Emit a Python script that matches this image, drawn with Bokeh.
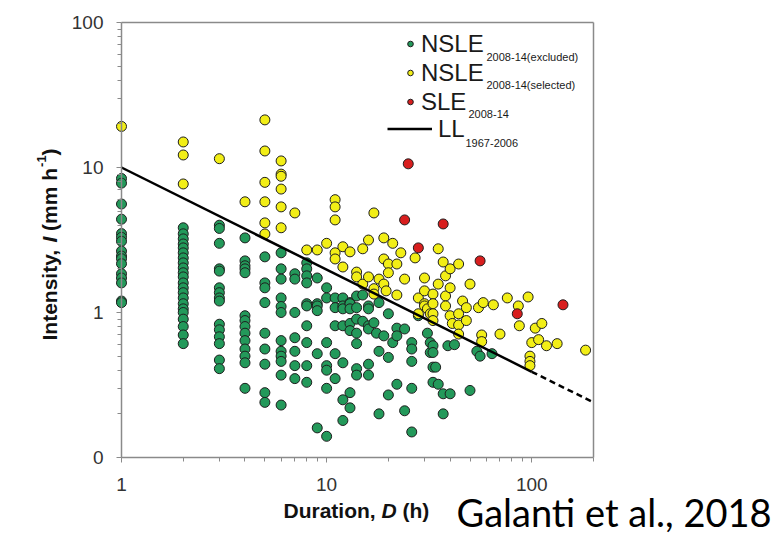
import math
from bokeh.plotting import figure
from bokeh.models import (ColumnDataSource, Legend, LegendItem, Label,
                          FixedTicker, Range1d, LogAxis)
from bokeh.embed import file_html
from bokeh.resources import INLINE

# ---------------- data ----------------
# NSLE 2008-14 (excluded)  -- green
excl_D = [1, 1, 1, 1, 1, 1, 1, 1, 1, 1, 1, 1, 1, 1, 1, 1,
          2, 2, 2, 2, 2, 2, 2, 2, 2, 2, 2, 2, 2, 2, 2, 2, 2, 2, 2, 2, 2, 2,
          3, 3, 3, 3, 3, 3, 3, 3, 3, 3, 3, 3, 3, 3, 3,
          4, 4, 4, 4, 4, 4, 4, 4, 4, 4, 4, 4, 4, 4,
          5, 5, 5, 5, 5, 5, 5, 5, 5,
          6, 6, 6, 6, 6, 6, 6, 6, 6, 6, 6, 6,
          7, 7, 7, 7, 7, 7, 7,
          8, 8, 8, 8, 8, 8, 8, 8, 8, 8,
          9, 9, 9, 9, 9, 9,
          10, 10, 10, 10, 10, 10, 10,
          11, 11, 11, 11, 11,
          12, 12, 12, 12, 12, 12, 12,
          13, 13, 13, 13, 13, 13, 13,
          14, 14, 14, 14, 14, 14, 14,
          15, 15,
          16, 16, 16, 16, 16, 16,
          17, 17.5,
          18, 18, 18,
          19,
          20, 20, 20,
          21,
          22, 22, 22,
          24, 24,
          26, 26, 26, 26, 26,
          28, 31, 32, 32,
          33, 33, 33, 33,
          34, 35, 37, 37, 39, 40, 42, 50, 54, 56, 64]
excl_I = [8.4, 7.8, 5.6, 4.4, 3.5, 3.3, 3.1, 2.65, 2.45, 2.35, 2.17, 1.85, 1.73, 1.6, 1.2, 1.17,
          3.84, 3.49, 3.22, 2.97, 2.79, 2.58, 2.38, 2.2, 2.03, 1.88, 1.76, 1.6, 1.48, 1.37, 1.26,
          1.15, 1.06, 1.0, 0.9, 0.8, 0.7, 0.61,
          4.0, 3.8, 3.0, 2.0, 1.93, 1.48, 1.37, 1.26, 1.2, 0.83, 0.76, 0.68, 0.61, 0.47, 0.41,
          3.27, 2.27, 2.1, 2.0, 1.88, 0.95, 0.88, 0.8, 0.72, 0.64, 0.56, 0.5, 0.45, 0.30,
          2.42, 1.6, 1.48, 1.17, 0.72, 0.56, 0.44, 0.28, 0.24,
          2.58, 2.0, 1.7, 1.26, 1.1, 1.0, 0.64, 0.54, 0.5, 0.46, 0.37, 0.23,
          1.85, 1.7, 1.0, 0.67, 0.54, 0.43, 0.35,
          2.2, 2.0, 1.79, 1.6, 1.15, 1.11, 0.81, 0.62, 0.43, 0.33,
          1.73, 1.15, 1.11, 1.03, 0.52, 0.16,
          1.48, 1.26, 0.62, 0.43, 0.40, 0.30, 0.14,
          1.26, 1.08, 0.81, 0.52, 0.35,
          1.26, 1.11, 1.06, 0.81, 0.45, 0.25, 0.18,
          1.17, 1.15, 1.06, 0.84, 0.75, 0.28, 0.22,
          1.3, 1.08, 0.9, 0.72, 0.61, 0.41, 0.37,
          1.32, 0.87,
          1.11, 1.06, 0.81, 0.77, 0.44, 0.37,
          0.85, 0.72,
          1.17, 0.54, 0.2,
          0.69,
          0.98, 0.49, 0.27,
          0.62,
          0.78, 0.69, 0.32,
          0.77, 0.21,
          0.62, 0.56, 0.46, 0.30, 0.15,
          0.95, 0.72, 0.62, 0.53,
          0.59, 0.53, 0.42, 0.33,
          0.42, 0.32, 0.275, 0.2, 0.59, 0.275, 0.6, 0.29, 0.54, 0.5, 0.52]

# NSLE 2008-14 (selected)  -- yellow
sel_D = [1, 2, 2, 2, 3, 4,
         5, 5, 5, 5, 5, 5,
         6, 6, 6, 6, 6, 6,
         7, 8, 9, 10,
         11, 11, 11, 11, 11,
         12, 12, 13, 14, 14, 15, 15, 16, 16,
         17, 17, 17, 18, 19, 19, 19, 19.5,
         20, 20, 21, 22, 22, 23, 24, 27, 28, 28,
         30, 30, 30, 30, 31, 32,
         33, 33, 33, 33, 35, 35, 37,
         38, 38, 38, 40, 40, 40, 41,
         44, 44, 44, 44, 46, 48, 48, 50, 55, 57, 57, 58,
         65, 70, 76, 86, 87, 96, 98, 98, 98,
         100, 104, 108, 112, 118, 133, 183]
sel_I = [19.2, 15.0, 12.2, 7.7, 11.5, 5.8,
         21.3, 13.0, 7.9, 5.8, 4.15, 3.48,
         11.1, 9.0, 8.7, 7.1, 5.35, 3.84,
         4.86, 2.7, 2.7, 3.0,
         6.0, 5.35, 4.35, 2.58, 2.34,
         2.84, 2.06, 2.62, 1.9, 1.76, 2.75, 1.57, 3.16, 1.76,
         4.86, 1.46, 1.34, 1.7, 3.27, 2.34, 1.57, 1.41,
         2.16, 1.88, 3.0, 2.16, 1.32, 2.58, 1.7, 2.38, 1.26, 0.98,
         1.73, 1.41, 1.15, 1.11, 1.06, 0.98,
         1.34, 1.15, 0.98, 0.88, 2.75, 1.57, 2.23,
         1.79, 1.3, 1.11, 2.0, 1.48, 0.95, 0.84,
         2.16, 0.98, 0.82, 0.71, 1.2, 1.08, 0.88, 1.57, 1.08, 0.70, 0.63, 1.17,
         1.13, 0.71, 1.26, 1.11, 0.81, 1.28, 0.5, 0.46, 0.43,
         0.62, 0.78, 0.65, 0.84, 0.59, 0.61, 0.55]

# SLE 2008-14  -- red
sle_D = [25, 24, 28, 37, 56, 85, 142]
sle_I = [10.6, 4.35, 2.79, 4.08, 2.27, 0.98, 1.13]

# LL 1967-2006 threshold line (solid part, dashed extrapolation)
ll_D = [1, 100]
ll_I = [10.0, 0.39]
ll_ext_D = [100, 200]
ll_ext_I = [0.39, 0.24]

x_ticks = [1, 10, 100]
x_tick_labels = {1: "1", 10: "10", 100: "100"}
y_ticks = [0.1, 1, 10, 100]
y_tick_labels = {0.1: "0", 1: "1", 10: "10", 100: "100"}
X_LIM = (1, 200)
Y_LIM = (0.1, 100)

# ---------------- layout ----------------
GREEN = "#23995a"
YELLOW = "#f2ee16"
RED = "#d81e1e"
EDGE = "#1e1e1e"
AX = "#8a8a8a"
FONT = "Liberation Sans"

W, H = 776, 533              # canvas size (canvas starts at page 0,0)
FL, FR, FT, FB = 121, 593, 22, 457   # wanted plot box, page pixels
xdec = (FR - FL) / math.log10(X_LIM[1] / X_LIM[0])
ydec = (FB - FT) / math.log10(Y_LIM[1] / Y_LIM[0])


def dx(px):
    return X_LIM[0] * 10 ** ((px - FL) / xdec)


def dy(py):
    return Y_LIM[0] * 10 ** ((FB - py) / ydec)


p = figure(width=W, height=H, x_axis_type="log", y_axis_type="log",
           x_range=Range1d(dx(0), dx(W)),
           y_range=Range1d(dy(H), dy(0)),
           output_backend="svg", toolbar_location=None,
           min_border=0, min_border_left=0, min_border_right=0,
           min_border_top=0, min_border_bottom=0,
           background_fill_color="white", border_fill_color="white")
p.grid.visible = False
p.outline_line_color = None

minor_x = [2, 3, 4, 5, 6, 7, 8, 9, 20, 30, 40, 50, 60, 70, 80, 90, 200]
minor_y = [0.2, 0.3, 0.4, 0.5, 0.6, 0.7, 0.8, 0.9, 2, 3, 4, 5, 6, 7, 8, 9,
           20, 30, 40, 50, 60, 70, 80, 90]
p.xaxis.ticker = FixedTicker(ticks=x_ticks, minor_ticks=minor_x)
p.yaxis.ticker = FixedTicker(ticks=y_ticks, minor_ticks=minor_y)
p.xaxis.major_label_overrides = x_tick_labels
p.yaxis.major_label_overrides = y_tick_labels
p.xaxis.fixed_location = Y_LIM[0]
p.yaxis.fixed_location = X_LIM[0]
p.xaxis.bounds = X_LIM
p.yaxis.bounds = Y_LIM

for ax in (p.xaxis, p.yaxis):
    ax.axis_line_color = AX
    ax.axis_line_width = 1.5
    ax.major_tick_line_color = AX
    ax.minor_tick_line_color = AX
    ax.major_tick_in = 0
    ax.major_tick_out = 5
    ax.minor_tick_in = 0
    ax.minor_tick_out = 4
    ax.major_label_text_font = FONT
    ax.major_label_text_font_size = "19px"
    ax.major_label_text_color = "#333333"
p.xaxis.major_label_standoff = 15
p.yaxis.major_label_standoff = 13

# top and right border of the box
top_ax = LogAxis(fixed_location=Y_LIM[1], bounds=X_LIM,
                 ticker=FixedTicker(ticks=[], minor_ticks=[]),
                 axis_line_color=AX, axis_line_width=1.5,
                 major_label_text_alpha=0)
right_ax = LogAxis(fixed_location=X_LIM[1], bounds=Y_LIM,
                   ticker=FixedTicker(ticks=[], minor_ticks=[]),
                   axis_line_color=AX, axis_line_width=1.5,
                   major_label_text_alpha=0)
p.add_layout(top_ax, "above")
p.add_layout(right_ax, "right")

src_ex = ColumnDataSource(dict(D=excl_D, I=excl_I))
src_sel = ColumnDataSource(dict(D=sel_D, I=sel_I))
src_sle = ColumnDataSource(dict(D=sle_D, I=sle_I))

r_ex = p.scatter("D", "I", source=src_ex, size=10, fill_color=GREEN,
                 line_color=EDGE, line_width=1)
r_sel = p.scatter("D", "I", source=src_sel, size=10, fill_color=YELLOW,
                  line_color=EDGE, line_width=1)
r_sle = p.scatter("D", "I", source=src_sle, size=10, fill_color=RED,
                  line_color=EDGE, line_width=1)
r_ll = p.line(ll_D, ll_I, line_color="black", line_width=2.5)
p.line(ll_ext_D, ll_ext_I, line_color="black", line_width=2.5, line_dash="6 4")

# ---------------- legend ----------------
leg_kw = dict(orientation="vertical", glyph_height=29, label_height=29,
              spacing=0, padding=0, margin=0,
              border_line_alpha=0, background_fill_alpha=0,
              label_text_font=FONT, label_text_font_size="24px",
              label_text_color="#1a1a1a")
leg1 = Legend(items=[LegendItem(label="NSLE", renderers=[r_ex]),
                     LegendItem(label="NSLE", renderers=[r_sel]),
                     LegendItem(label="SLE", renderers=[r_sle])],
              location=(403, H - 116),
              glyph_width=14, label_standoff=4, **leg_kw)
leg2 = Legend(items=[LegendItem(label="LL", renderers=[r_ll])],
              location=(387, H - 143),
              glyph_width=45, label_standoff=6, **leg_kw)
p.add_layout(leg1)
p.add_layout(leg2)

sub_kw = dict(text_font=FONT, text_font_size="11px",
              text_color="#1a1a1a", text_baseline="alphabetic",
              text_align="left")
for txt, px, py in [("2008-14(excluded)", 486, 56),
                    ("2008-14(selected)", 486, 84),
                    ("2008-14", 468, 113),
                    ("1967-2006", 465, 142)]:
    p.add_layout(Label(x=dx(px), y=dy(py), text=txt, **sub_kw))

# ---------------- axis titles (bold, with italic symbols) ----------------
lab_kw = dict(text_font=FONT, text_font_size="21px", text_color="#111111",
              text_baseline="alphabetic", text_align="left")
x_parts = [("Duration,", "bold", 0), ("D", "bold italic", 98.0),
           ("(h)", "bold", 119.0)]
for txt, style, off in x_parts:
    p.add_layout(Label(x=dx(283 + off), y=dy(510), text=txt,
                       text_font_style=style, **lab_kw))

y_parts = [("Intensity,", "bold", 0, 0, "21px"),
           ("I", "bold italic", 98.0, 0, "21px"),
           ("(mm h", "bold", 109.6, 0, "21px"),
           ("-1", "bold", 173.6, 8, "13px"),
           (")", "bold", 185.0, 0, "21px")]
for txt, style, off, sup, fs in y_parts:
    kw = dict(lab_kw)
    kw["text_font_size"] = fs
    p.add_layout(Label(x=dx(49 - sup), y=dy(340 - off), text=txt,
                       angle=math.pi / 2, text_font_style=style, **kw))

p.add_layout(Label(x=dx(456), y=dy(511), text="Galanti et al., 2018",
                   text_font="Lato", text_font_size="38px",
                   text_color="#000000", text_baseline="alphabetic",
                   text_align="left"))

open("out.html", "w").write(file_html(p, INLINE))
